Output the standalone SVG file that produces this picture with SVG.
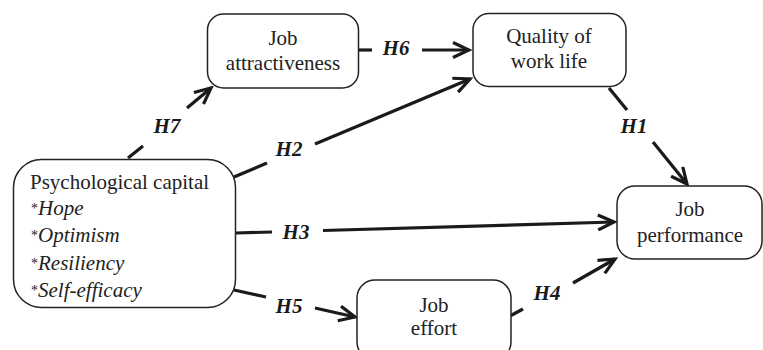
<svg xmlns="http://www.w3.org/2000/svg" width="763" height="350" viewBox="0 0 763 350">
<style>
.box{fill:#fff;stroke:#222;stroke-width:1.5}
.t{font-family:"Liberation Serif","Times New Roman",serif;font-size:21px;fill:#222;text-anchor:middle}
.tl{font-family:"Liberation Serif","Times New Roman",serif;font-size:21px;fill:#222}
.it{font-family:"Liberation Serif","Times New Roman",serif;font-size:21px;font-style:italic;fill:#222}
.ast{font-family:"Liberation Serif","Times New Roman",serif;font-size:14px;fill:#222}
.lab{font-family:"Liberation Serif","Times New Roman",serif;font-size:21px;font-style:italic;font-weight:bold;fill:#1a1a1a;text-anchor:middle}
.c{stroke:#1a1a1a;stroke-width:3.2;fill:none}
</style>
<defs>
<marker id="ah" markerUnits="userSpaceOnUse" viewBox="0 0 20 18" refX="17" refY="9" markerWidth="20" markerHeight="18" orient="auto">
<path d="M1,1.5 L17,9 L1,16.5" fill="none" stroke="#1a1a1a" stroke-width="3.2" stroke-linejoin="miter"/>
</marker>
</defs>
<g id="connectors">
<line class="c" x1="128" y1="158" x2="143" y2="146"/>
<line class="c" x1="187" y1="108" x2="211" y2="88" marker-end="url(#ah)"/>
<line class="c" x1="234" y1="177" x2="267" y2="163"/>
<line class="c" x1="315" y1="144" x2="470" y2="79" marker-end="url(#ah)"/>
<line class="c" x1="358" y1="50" x2="372" y2="50"/>
<line class="c" x1="422" y1="50" x2="469" y2="50" marker-end="url(#ah)"/>
<line class="c" x1="609" y1="88" x2="627" y2="110"/>
<line class="c" x1="653" y1="142" x2="687" y2="184" marker-end="url(#ah)"/>
<line class="c" x1="236" y1="233" x2="272" y2="232"/>
<line class="c" x1="323" y1="230.5" x2="614" y2="222" marker-end="url(#ah)"/>
<line class="c" x1="234" y1="290" x2="266" y2="297"/>
<line class="c" x1="315" y1="308" x2="355" y2="317" marker-end="url(#ah)"/>
<line class="c" x1="510" y1="316" x2="523" y2="309"/>
<line class="c" x1="573" y1="283" x2="615" y2="259" marker-end="url(#ah)"/>
</g>
<g id="job-attractiveness">
<rect class="box" x="207.5" y="14" width="151" height="74" rx="16"/>
<text class="t" x="283" y="45">Job</text>
<text class="t" x="283" y="70">attractiveness</text>
</g>
<g id="quality-of-work-life">
<rect class="box" x="473" y="13.5" width="153" height="73" rx="16"/>
<text class="t" x="549" y="43">Quality of</text>
<text class="t" x="549" y="68">work life</text>
</g>
<g id="psychological-capital">
<rect class="box" x="13.5" y="159.5" width="222" height="148" rx="28"/>
<text class="tl" x="30" y="189">Psychological capital</text>
<text class="ast" x="31" y="213">*</text><text class="it" x="38" y="215">Hope</text>
<text class="ast" x="31" y="240">*</text><text class="it" x="38" y="242">Optimism</text>
<text class="ast" x="31" y="268">*</text><text class="it" x="38" y="270">Resiliency</text>
<text class="ast" x="31" y="295">*</text><text class="it" x="38" y="297">Self-efficacy</text>
</g>
<g id="job-effort">
<rect class="box" x="357" y="280" width="154" height="80" rx="18"/>
<text class="t" x="434" y="312">Job</text>
<text class="t" x="434" y="335">effort</text>
</g>
<g id="job-performance">
<rect class="box" x="617" y="186" width="145" height="73" rx="18"/>
<text class="t" x="690" y="216">Job</text>
<text class="t" x="690" y="242">performance</text>
</g>
<g id="labels">
<text class="lab" x="167" y="133">H7</text>
<text class="lab" x="289" y="156">H2</text>
<text class="lab" x="396" y="55">H6</text>
<text class="lab" x="634" y="133">H1</text>
<text class="lab" x="296" y="239">H3</text>
<text class="lab" x="289" y="313">H5</text>
<text class="lab" x="547" y="300">H4</text>
</g>
</svg>
